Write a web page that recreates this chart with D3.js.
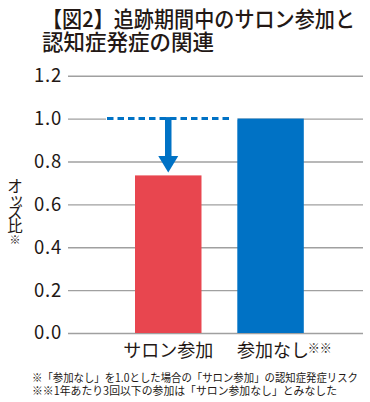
<!DOCTYPE html>
<html>
<head>
<meta charset="utf-8">
<script src="https://cdn.jsdelivr.net/npm/d3@7"></script>
<style>
  html, body { margin: 0; padding: 0; background: #fff; }
  svg { display: block; font-family: 'Noto Sans CJK JP', 'Noto Sans', sans-serif; }
</style>
</head>
<body>
<div id="chart"></div>
<script>
// Chart data
const titleLines = ['【図2】追跡期間中のサロン参加と', '認知症発症の関連'];
const categories = ['サロン参加', '参加なし'];
const oddsRatios = [0.735, 1.0];
const categoryNotes = ['', '※※'];
const yTicks = [0.0, 0.2, 0.4, 0.6, 0.8, 1.0, 1.2];
const yTitleChars = ['オ', 'ッ', 'ズ', '比', '※'];
const footnotes = [
  '※「参加なし」を1.0とした場合の「サロン参加」の認知症発症リスク',
  '※※1年あたり3回以下の参加は「サロン参加なし」とみなした'
];
const referenceValue = 1.0;

const barColors = ['#e8464f', '#0072c5'];
const blue = '#0072c5';
const ink = '#231815';

const svgWidth = 370;
const svgHeight = 402;

let svg = d3.select('#chart')
  .append('svg')
  .attr('width', svgWidth)
  .attr('height', svgHeight);

// Title
let titleWidths = [313, null];
svg.append('g')
  .selectAll('text')
  .data(titleLines)
  .enter()
  .append('text')
  .attr('x', 42)
  .attr('y', (d, i) => 27 + i * 22.5)
  .attr('font-size', '21.5px')
  .attr('font-weight', 500)
  .attr('fill', ink)
  .attr('textLength', (d, i) => titleWidths[i])
  .attr('lengthAdjust', 'spacingAndGlyphs')
  .text(d => d);

// Scales
let y = d3.scaleLinear()
  .domain([0, 1.2])
  .range([333, 75.7]);

let x = d3.scaleBand()
  .domain(categories)
  .range([117.1, 321.7])
  .paddingInner(0.35)
  .paddingOuter(0.175);

// Grid lines + tick labels
let yAxis = d3.axisLeft(y)
  .tickValues(yTicks)
  .tickFormat(d3.format('.1f'))
  .tickSize(-(363 - 68))
  .tickPadding(6);

let axisG = svg.append('g')
  .attr('transform', 'translate(68,0)')
  .call(yAxis);

axisG.select('.domain').remove();
axisG.selectAll('.tick line')
  .attr('stroke', '#a0a0a0')
  .attr('stroke-width', 1.4);
axisG.selectAll('.tick text')
  .attr('font-family', "'Noto Sans CJK JP', sans-serif")
  .attr('font-size', '18.5px')
  .attr('letter-spacing', '0.8px')
  .attr('fill', ink);

// Y title, written top to bottom one character at a time
let titleCentres = [185, 198, 211, 225, 239];
svg.append('g')
  .selectAll('text')
  .data(yTitleChars)
  .enter()
  .append('text')
  .attr('x', (d, i) => (i === 1 ? 16.5 : 15))
  .attr('y', (d, i) => titleCentres[i])
  .attr('text-anchor', 'middle')
  .attr('dominant-baseline', 'central')
  .attr('font-size', (d, i) => (i === 4 ? '11px' : '15.5px'))
  .attr('fill', ink)
  .text(d => d);

// Bars
svg.append('g')
  .selectAll('rect')
  .data(oddsRatios)
  .enter()
  .append('rect')
  .attr('x', (d, i) => x(categories[i]))
  .attr('y', d => y(d))
  .attr('width', x.bandwidth())
  .attr('height', d => y(0) - y(d))
  .attr('fill', (d, i) => barColors[i]);

// Dashed reference line at 1.0 (hide grid underneath)
svg.append('line')
  .attr('x1', 106)
  .attr('x2', x(categories[1]))
  .attr('y1', y(referenceValue))
  .attr('y2', y(referenceValue))
  .attr('stroke', '#fff')
  .attr('stroke-width', 3);

svg.append('line')
  .attr('x1', 107)
  .attr('x2', 231)
  .attr('y1', y(referenceValue))
  .attr('y2', y(referenceValue))
  .attr('stroke', blue)
  .attr('stroke-width', 3)
  .attr('stroke-dasharray', '6.5,4');

// Arrow from 1.0 down to salon bar
let ax = x(categories[0]) + x.bandwidth() / 2;
let tipY = y(oddsRatios[0]) - 3;
let headTop = tipY - 16.5;

svg.append('line')
  .attr('x1', ax)
  .attr('x2', ax)
  .attr('y1', y(referenceValue) - 1.5)
  .attr('y2', headTop + 1)
  .attr('stroke', blue)
  .attr('stroke-width', 6.5);

svg.append('path')
  .attr('d', `M${ax - 10},${headTop} L${ax + 10},${headTop} L${ax},${tipY} Z`)
  .attr('fill', blue);

// Category labels
svg.append('g')
  .selectAll('text')
  .data(categories)
  .enter()
  .append('text')
  .attr('x', d => x(d) + x.bandwidth() / 2 + (d === categories[1] ? 2.5 : 0))
  .attr('y', 357)
  .attr('text-anchor', 'middle')
  .attr('font-size', '18px')
  .attr('fill', ink)
  .text(d => d);

svg.append('g')
  .selectAll('text')
  .data(categoryNotes)
  .enter()
  .append('text')
  .attr('x', (d, i) => x(categories[i]) + x.bandwidth() + 4)
  .attr('y', 353)
  .attr('font-size', '12px')
  .attr('fill', ink)
  .text(d => d);

// Footnotes
let footWidths = [326, 305];
svg.append('g')
  .selectAll('text')
  .data(footnotes)
  .enter()
  .append('text')
  .attr('x', 32)
  .attr('y', (d, i) => 382 + i * 13)
  .attr('font-size', '11.3px')
  .attr('fill', ink)
  .attr('textLength', (d, i) => footWidths[i])
  .attr('lengthAdjust', 'spacingAndGlyphs')
  .text(d => d);
</script>
</body>
</html>
